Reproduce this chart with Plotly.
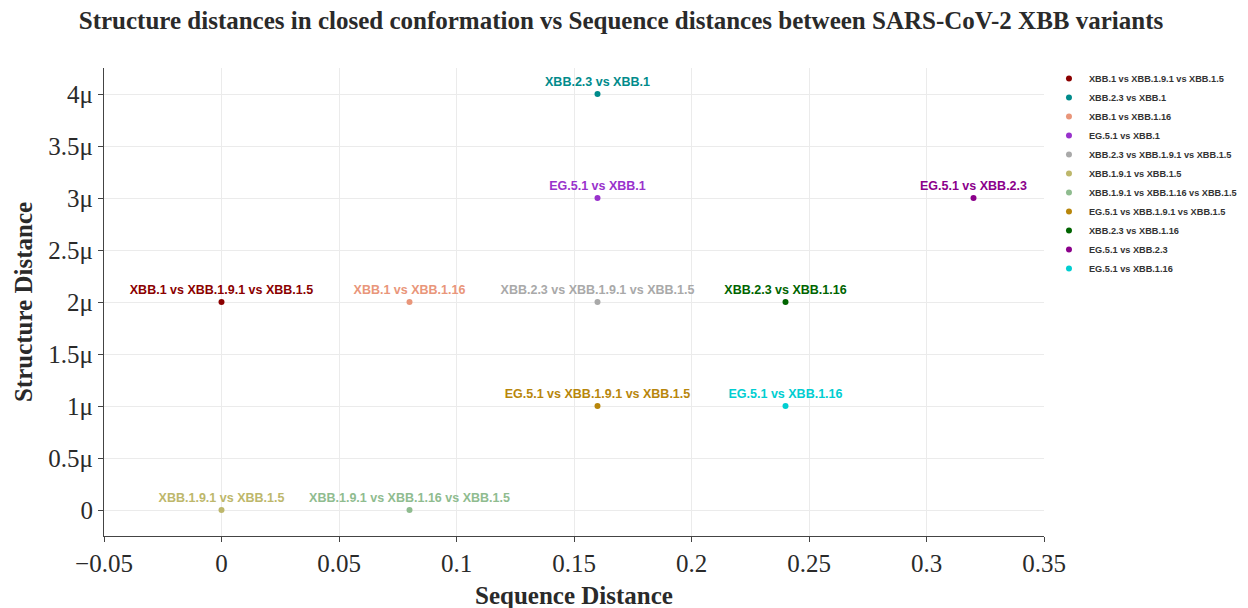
import plotly.graph_objects as go

pairs = ['XBB.1 vs XBB.1.9.1 vs XBB.1.5', 'XBB.2.3 vs XBB.1', 'XBB.1 vs XBB.1.16',
         'EG.5.1 vs XBB.1', 'XBB.2.3 vs XBB.1.9.1 vs XBB.1.5', 'XBB.1.9.1 vs XBB.1.5',
         'XBB.1.9.1 vs XBB.1.16 vs XBB.1.5', 'EG.5.1 vs XBB.1.9.1 vs XBB.1.5',
         'XBB.2.3 vs XBB.1.16', 'EG.5.1 vs XBB.2.3', 'EG.5.1 vs XBB.1.16']
seq_dist = [0, 0.16, 0.08, 0.16, 0.16, 0, 0.08, 0.16, 0.24, 0.32, 0.24]
struct_dist = [2e-6, 4e-6, 2e-6, 3e-6, 2e-6, 0, 0, 1e-6, 2e-6, 3e-6, 1e-6]
colors = ['darkred', 'darkcyan', 'darksalmon', 'darkorchid', 'darkgray', 'darkkhaki',
          'darkseagreen', 'darkgoldenrod', 'darkgreen', 'darkmagenta', 'darkturquoise']

fig = go.Figure()
for name, x, y, c in zip(pairs, seq_dist, struct_dist, colors):
    fig.add_trace(go.Scatter(
        x=[x], y=[y], mode='markers+text', name=name,
        text=[name], textposition='top center',
        marker=dict(color=c, size=6),
        textfont=dict(color=c, size=12.5, family='Liberation Sans', weight='bold'),
    ))

fig.update_layout(
    template='simple_white',
    width=1248, height=608,
    margin=dict(l=96, r=212, t=60, b=80, autoexpand=False),
    title=dict(text='<b>Structure distances in closed conformation vs Sequence distances between SARS-CoV-2 XBB variants</b>',
               x=0.4912, xref='container', yref='container', y=0.98, yanchor='middle',
               font=dict(family='Liberation Serif', size=25, color='#2a2a2a')),
    font=dict(family='Liberation Serif', color='#2a2a2a'),
    xaxis=dict(title=dict(text='<b>Sequence Distance</b>', font=dict(size=25), standoff=10),
               range=[-0.05, 0.35], dtick=0.05, showgrid=True, gridcolor='#ebebeb',
               tickfont=dict(size=25), ticks='outside', linecolor='#444', automargin=False),
    yaxis=dict(title=dict(text='<b>Structure Distance</b>', font=dict(size=25), standoff=8),
               range=[-0.25e-6, 4.25e-6], dtick=0.5e-6, showgrid=True, gridcolor='#ebebeb',
               tickfont=dict(size=25), ticks='outside', linecolor='#444', automargin=False),
    legend=dict(x=1.0053, y=1.0085, yanchor='top',
                font=dict(family='Liberation Sans', size=9.2, weight='bold', color='#333'),
                tracegroupgap=0),
)

fig.write_html('out.html')
